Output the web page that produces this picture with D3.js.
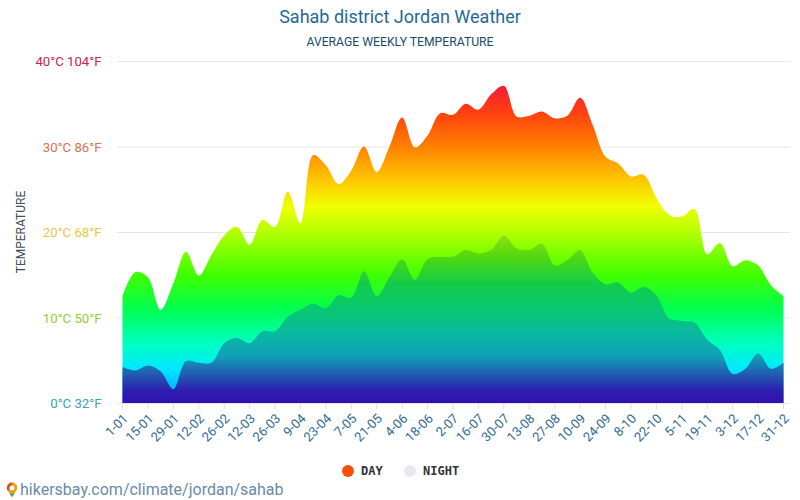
<!DOCTYPE html>
<html>
<head>
<meta charset="utf-8">
<script src="https://cdn.jsdelivr.net/npm/d3@7"></script>
<style>
html, body { margin: 0; padding: 0; background: #fff; }
text { font-family: Roboto, sans-serif; }
</style>
</head>
<body>
<script>
var tickLabels = ["1-01","15-01","29-01","12-02","26-02","12-03","26-03","9-04","23-04","7-05","21-05","4-06","18-06","2-07","16-07","30-07","13-08","27-08","10-09","24-09","8-10","22-10","5-11","19-11","3-12","17-12","31-12"];
var yTicks = [0, 10, 20, 30, 40];
var yLabels = ["0°C 32°F", "10°C 50°F", "20°C 68°F", "30°C 86°F", "40°C 104°F"];
var yColors = ["#3a9fc0", "#8fd030", "#e8c848", "#e0704a", "#d0214a"];
// one value per week
var dayTemp = [12.5,15.3,14.7,10.9,14,17.7,14.9,17.3,19.6,20.6,18.5,21.4,20.6,24.7,21,29,27.8,25.6,27.2,30,27,30,33.4,29.9,31.3,33.9,33.7,35,34.3,36.1,37.1,33.5,33.6,34.1,33.3,33.6,35.7,32.5,28.8,28,26.5,26.7,24,22,21.8,22.7,17.4,18.7,16,16.7,16.1,13.8,12.5];
var nightTemp = [4.2,3.8,4.4,3.7,1.6,4.9,4.7,4.7,7,7.6,7,8.4,8.4,10.1,10.9,11.6,11.1,12.6,12.3,15.4,12.5,14.7,16.8,14.4,16.8,17.1,17.1,17.9,17.5,17.9,19.6,18.1,17.9,18.6,16.1,16.7,17.9,15.2,13.9,14.1,12.9,13.6,12.6,9.9,9.6,9.4,7.4,6.2,3.4,4,5.8,4,4.7];

var width = 800, height = 500;
var svg = d3.select("body").append("svg")
  .attr("width", width)
  .attr("height", height)
  .style("display", "block");

var x = d3.scaleLinear().domain([0, dayTemp.length - 1]).range([122.5, 783.5]);
var y = d3.scaleLinear().domain([0, 40]).range([403, 61]);

var defs = svg.append("defs");

function addGradient(id, stops) {
  var g = defs.append("linearGradient")
    .attr("id", id)
    .attr("gradientUnits", "userSpaceOnUse")
    .attr("x1", 0).attr("x2", 0)
    .attr("y1", y(0)).attr("y2", y(40));
  g.selectAll("stop").data(stops).enter().append("stop")
    .attr("offset", function(d) { return d[0] / 40; })
    .attr("stop-color", function(d) { return d[1]; });
}

addGradient("dayGrad", [[0,"#0090ff"],[4,"#00e8ff"],[7,"#00ffc0"],[11,"#00ff50"],[15,"#40ff00"],[20,"#b4ff00"],[23,"#f0ff00"],[26,"#ffc800"],[30,"#ff8000"],[34,"#ff4010"],[38,"#f01040"],[40,"#e00060"]]);
addGradient("nightGrad", [[0,"#3010b0"],[1.5,"#2c20b0"],[3.5,"#2060b0"],[5.5,"#10a0b8"],[8,"#08b8a0"],[11,"#08c870"],[14,"#14cc48"],[17,"#50d810"],[20,"#98e010"]]);

// grid lines and y labels
svg.selectAll(".grid").data(yTicks).enter().append("line")
  .attr("x1", 117).attr("x2", 790)
  .attr("y1", function(d) { return y(d) + 0.5; })
  .attr("y2", function(d) { return y(d) + 0.5; })
  .attr("stroke", "#e6e6e6");

svg.selectAll(".ylab").data(yTicks).enter().append("text")
  .attr("x", 101.5)
  .attr("y", function(d) { return y(d) + 5; })
  .attr("text-anchor", "end")
  .attr("font-size", 13.2)
  .attr("fill", function(d, i) { return yColors[i]; })
  .text(function(d, i) { return yLabels[i]; });

var area = d3.area()
  .x(function(d, i) { return x(i); })
  .y0(y(0))
  .y1(function(d) { return y(d); })
  .curve(d3.curveCatmullRom.alpha(0.5));

svg.append("path").attr("d", area(dayTemp)).attr("fill", "url(#dayGrad)");
svg.append("path").attr("d", area(nightTemp)).attr("fill", "url(#nightGrad)");

// x ticks, every second week
var tickX = tickLabels.map(function(d, i) { return x(i * 2); });
svg.selectAll(".tick").data(tickX).enter().append("line")
  .attr("x1", function(d) { return d; })
  .attr("x2", function(d) { return d; })
  .attr("y1", 403).attr("y2", 409)
  .attr("stroke", "#e0e0e0");

svg.selectAll(".xlab").data(tickLabels).enter().append("text")
  .attr("transform", function(d, i) { return "translate(" + (tickX[i] + 3) + ",416) rotate(-45)"; })
  .attr("text-anchor", "end")
  .attr("font-size", 13)
  .attr("dy", "0.35em")
  .attr("fill", "#2f6a8f")
  .text(function(d) { return d; });

svg.append("text")
  .attr("x", 400).attr("y", 23)
  .attr("text-anchor", "middle")
  .attr("font-size", 18)
  .attr("fill", "#1f6a94")
  .text("Sahab district Jordan Weather");

svg.append("text")
  .attr("x", 400).attr("y", 46)
  .attr("text-anchor", "middle")
  .attr("font-size", 12.2)
  .attr("fill", "#1b4a6b")
  .text("AVERAGE WEEKLY TEMPERATURE");

svg.append("text")
  .attr("transform", "translate(25,232) rotate(-90)")
  .attr("text-anchor", "middle")
  .attr("font-size", 12)
  .attr("fill", "#444c55")
  .text("TEMPERATURE");

// legend
svg.append("circle").attr("cx", 348).attr("cy", 471).attr("r", 6).attr("fill", "#f4500e");
svg.append("circle").attr("cx", 410).attr("cy", 471).attr("r", 6).attr("fill", "#e6e9f0");
svg.append("text").attr("x", 361).attr("y", 475).attr("font-size", 12).attr("font-weight", "bold")
  .style("font-family", "'DejaVu Sans Mono', monospace").attr("fill", "#333").text("DAY");
svg.append("text").attr("x", 423).attr("y", 475).attr("font-size", 12).attr("font-weight", "bold")
  .style("font-family", "'DejaVu Sans Mono', monospace").attr("fill", "#333").text("NIGHT");

// site link with pin
svg.append("path")
  .attr("d", "M12 497 L7.6 490.5 A5.2 5.2 0 1 1 16.4 490.5 Z")
  .attr("fill", "#e8a020");
svg.append("path")
  .attr("d", "M7.6 490.5 A5.2 5.2 0 0 1 12 482.8 L12 485 A3 3 0 0 0 9.5 489.5 Z")
  .attr("fill", "#d8483a");
svg.append("path")
  .attr("d", "M12 497 L9.5 493.5 L14.5 493.5 Z")
  .attr("fill", "#5a9a5a");
svg.append("circle").attr("cx", 12).attr("cy", 488).attr("r", 2.4).attr("fill", "#fff");
svg.append("text")
  .attr("x", 20).attr("y", 495)
  .attr("font-size", 16)
  .attr("fill", "#6a8ba3")
  .text("hikersbay.com/climate/jordan/sahab");
</script>
</body>
</html>
